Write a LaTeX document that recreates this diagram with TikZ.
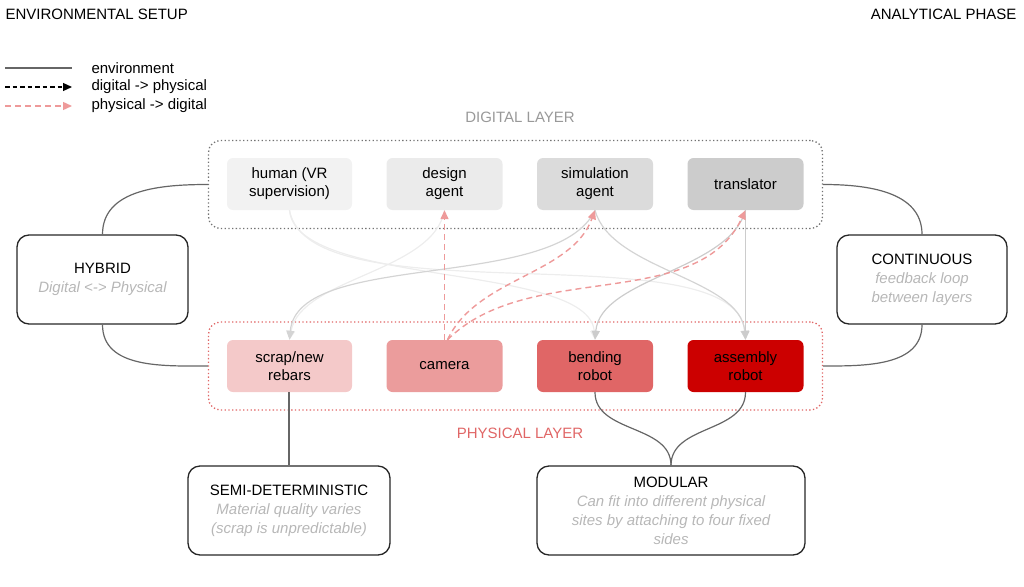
\documentclass[tikz,border=0pt]{standalone}
\usepackage{fontspec}
\setmainfont{Liberation Sans}
\usetikzlibrary{arrows.meta}

\definecolor{envline}{HTML}{666666}
\definecolor{subtext}{HTML}{B7B7B7}
\definecolor{redarr}{HTML}{EE9A9A}
\definecolor{redlayer}{HTML}{E06666}

\tikzstyle{agent}=[rounded corners=6pt, minimum width=116pt, minimum height=52pt,
                   align=center, font=\fontsize{15}{18}\selectfont]
\tikzstyle{mode}=[draw=black!85, line width=1.3pt, rounded corners=12pt,
                  align=center, font=\fontsize{15}{19}\selectfont]
\tikzstyle{layer}=[rounded corners=12pt, line width=1.3pt,
                   dash pattern=on 1.3pt off 2.4pt, minimum width=614pt, minimum height=88pt]
\tikzstyle{env}=[envline, line width=1.2pt]
\tikzstyle{down}=[line width=1.2pt, -{Triangle[length=9pt,width=8pt]}]
\tikzstyle{up}=[redarr, line width=1.4pt, dash pattern=on 6pt off 4pt,
                -{Triangle[length=9pt,width=8pt]}]
\tikzstyle{plain}=[font=\fontsize{15}{18}\selectfont]

\begin{document}
\begin{tikzpicture}[x=1pt,y=-1pt]
  \useasboundingbox (0,0) rectangle (1024,586);

  \node[plain, anchor=west] (setup) at (2,14) {ENVIRONMENTAL SETUP};
  \node[plain, anchor=east] (phase) at (1020,14) {ANALYTICAL PHASE};

  \coordinate (l1a) at (5,68);  \coordinate (l1b) at (72,68);
  \coordinate (l2a) at (5,87);  \coordinate (l2b) at (72,87);
  \coordinate (l3a) at (5,106); \coordinate (l3b) at (72,106);
  \draw[env] (l1a) -- (l1b);
  \draw[down, black, dash pattern=on 4.5pt off 3pt] (l2a) -- (l2b);
  \draw[up] (l3a) -- (l3b);
  \node[plain, anchor=west] (lenv) at (88,68) {environment};
  \node[plain, anchor=west] (ldp) at (88,87) {digital -> physical};
  \node[plain, anchor=west] (lpd) at (88,106) {physical -> digital};

  \node[layer, draw=black!55] (digital) at (515.5,184.5) {};
  \node[layer, draw=redlayer] (physical) at (515.5,366) {};
  \node[plain, text=black!40] (diglabel) at (520,117) {DIGITAL LAYER};
  \node[plain, text=redlayer] (phylabel) at (520,433) {PHYSICAL LAYER};

  \node[agent, fill=black!5, minimum width=125pt] (human) at (289.5,184) {human (VR\\supervision)};
  \node[agent, fill=black!8] (design) at (444.5,184) {design\\agent};
  \node[agent, fill=black!14] (sim) at (595,184) {simulation\\agent};
  \node[agent, fill=black!20] (trans) at (745.5,184) {translator};

  \node[agent, fill=redlayer!35, minimum width=125pt] (scrap) at (289.5,366) {scrap/new\\rebars};
  \node[agent, fill=redlayer!65] (camera) at (444.5,366) {camera};
  \node[agent, fill=redlayer] (bending) at (595,366) {bending\\robot};
  \node[agent, fill=red!80!black] (assembly) at (745.5,366) {assembly\\robot};

  \node[mode, minimum width=171pt, minimum height=89pt] (hybrid) at (102.5,279.5)
    {HYBRID\\\textcolor{subtext}{\itshape Digital <-> Physical}};
  \node[mode, minimum width=170pt, minimum height=89pt] (cont) at (922,279.5)
    {CONTINUOUS\\\textcolor{subtext}{\itshape feedback loop}\\\textcolor{subtext}{\itshape between layers}};
  \node[mode, minimum width=202pt, minimum height=89pt] (semi) at (289,510.5)
    {SEMI-DETERMINISTIC\\\textcolor{subtext}{\itshape Material quality varies}\\\textcolor{subtext}{\itshape (scrap is unpredictable)}};
  \node[mode, minimum width=268pt, minimum height=89pt] (modular) at (671,510.5)
    {MODULAR\\\textcolor{subtext}{\itshape Can fit into different physical}\\\textcolor{subtext}{\itshape sites by attaching to four fixed}\\\textcolor{subtext}{\itshape sides}};

  \draw[env] (hybrid.north) to[out=90,in=180] (digital.west);
  \draw[env] (hybrid.south) to[out=-90,in=180] (physical.west);
  \draw[env] (cont.north) to[out=90,in=0] (digital.east);
  \draw[env] (cont.south) to[out=-90,in=0] (physical.east);
  \draw[env] (scrap.south) -- (semi.north |- scrap.south) -- (semi.north);
  \draw[env] (bending.south) to[out=-90,in=90] (modular.north);
  \draw[env] (assembly.south) to[out=-90,in=90] (modular.north);

  \draw[down, black!7, looseness=0.6] (human.south) to[out=-85,in=95] (bending.north);
  \draw[down, black!7, looseness=0.6] (human.south) to[out=-80,in=95] (assembly.north);
  \draw[down, black!7, looseness=0.8] (design.south) to[out=-100,in=80] (scrap.north);
  \draw[down, black!17, looseness=0.7] (sim.south) to[out=-115,in=85] (scrap.north);
  \draw[down, black!17, looseness=0.8] (sim.south) to[out=-75,in=95] (assembly.north);
  \draw[down, black!20, looseness=0.8] (trans.south) to[out=-105,in=85] (bending.north);
  \draw[down, black!20] (trans.south) -- (assembly.north);

  \draw[up] (camera.north) -- (design.south);
  \draw[up, looseness=0.9] ([xshift=3pt]camera.north) to[out=65,in=-110] (sim.south);
  \draw[up, looseness=0.9] ([xshift=3pt]camera.north) to[out=45,in=-115] (trans.south);
\end{tikzpicture}
\end{document}
